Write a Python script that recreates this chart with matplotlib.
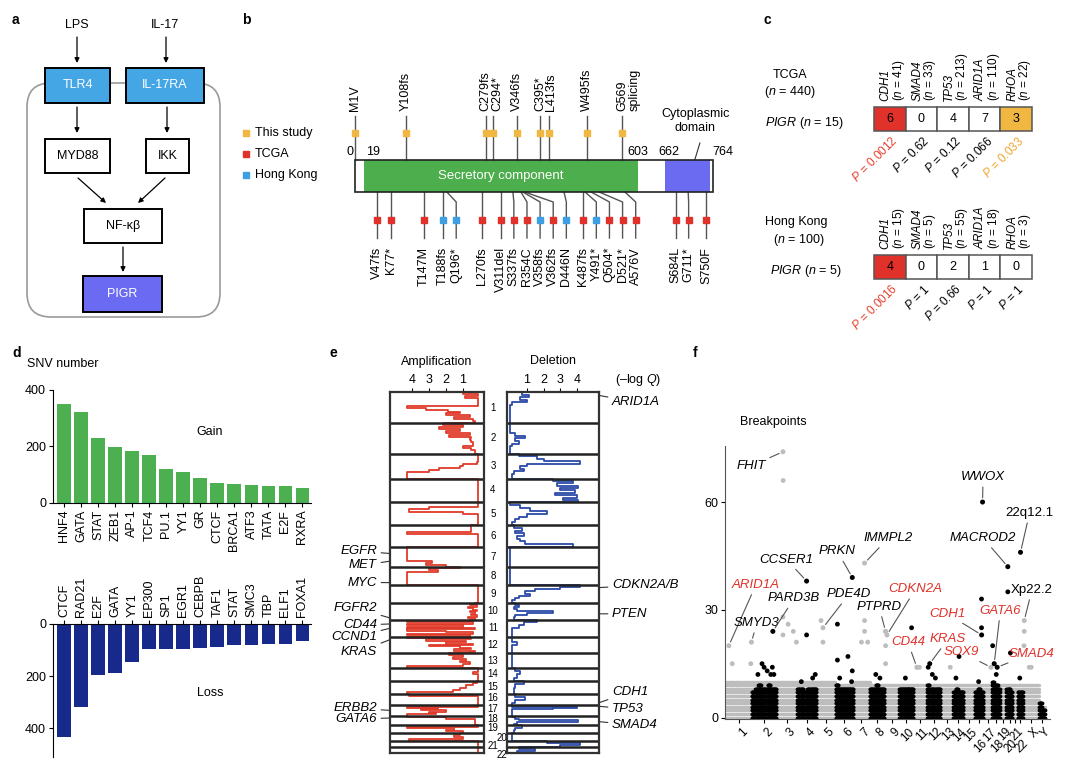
import numpy as np
import matplotlib
matplotlib.use("Agg")
import matplotlib.pyplot as plt
from matplotlib.patches import Rectangle, FancyBboxPatch

plt.rcParams['font.family'] = ['Liberation Sans', 'DejaVu Sans']
plt.rcParams['mathtext.fontset'] = 'custom'
plt.rcParams['mathtext.rm'] = 'Liberation Sans'
plt.rcParams['mathtext.it'] = 'Liberation Sans:italic'
plt.rcParams['font.size'] = 8.5

W, H = 1080, 780

# ---------------- data ----------------
# b: PIGR mutations
study_muts = ['M1V', 'Y108fs', 'C279fs', 'C294*', 'V346fs', 'C395*', 'L413fs', 'W495fs', 'G569\nsplicing']
study_pos = [1, 108, 279, 294, 346, 395, 413, 495, 569]
ext_muts = ['V47fs', 'K77*', 'T147M', 'T188fs', 'Q196*', 'L270fs', 'V311del', 'S337fs', 'R354C', 'V358fs',
            'V362fs', 'D446N', 'K487fs', 'Y491*', 'Q504*', 'D521*', 'A576V', 'S684L', 'G711*', 'S750F']
ext_pos = [47, 77, 147, 188, 196, 270, 311, 337, 354, 358, 362, 446, 487, 491, 504, 521, 576, 684, 711, 750]
ext_src = ['TCGA', 'TCGA', 'TCGA', 'Hong Kong', 'Hong Kong', 'TCGA', 'TCGA', 'TCGA', 'TCGA', 'Hong Kong',
           'TCGA', 'Hong Kong', 'TCGA', 'Hong Kong', 'TCGA', 'TCGA', 'TCGA', 'TCGA', 'TCGA', 'TCGA']
protein_len = 764
secretory = (19, 603)
cytoplasmic = (662, 758)

# c: co-mutation tables
c_genes = ['CDH1', 'SMAD4', 'TP53', 'ARID1A', 'RHOA']
tcga_n = [41, 33, 213, 110, 22]
tcga_counts = [6, 0, 4, 7, 3]
tcga_p = ['0.0012', '0.62', '0.12', '0.066', '0.033']
hk_n = [15, 5, 55, 18, 3]
hk_counts = [4, 0, 2, 1, 0]
hk_p = ['0.0016', '1', '0.66', '1', '1']

# d: SNV numbers per TF motif
gain_tf = ['HNF4', 'GATA', 'STAT', 'ZEB1', 'AP-1', 'TCF4', 'PU.1', 'YY1', 'GR', 'CTCF', 'BRCA1', 'ATF3', 'TATA', 'E2F', 'RXRA']
gain_val = [349, 323, 231, 196, 185, 169, 118, 109, 86, 69, 65, 64, 60, 58, 51]
loss_tf = ['CTCF', 'RAD21', 'E2F', 'GATA', 'YY1', 'EP300', 'SP1', 'EGR1', 'CEBPB', 'TAF1', 'STAT', 'SMC3', 'TBP', 'ELF1', 'FOXA1']
loss_val = [433, 318, 194, 187, 145, 96, 94, 94, 91, 87, 81, 81, 77, 77, 65]

# e: GISTIC -log Q profiles, per chromosome (equal segments along each chromosome)
chrom_len = [249, 243, 198, 191, 181, 171, 159, 146, 141, 136, 135, 134, 115, 107, 103, 90, 81, 78, 59, 63, 48, 51]
amp_profile = [
    [1.0, 0.1, 0.9, 0.1, 0.1, 0.1, 0.1, 4.3, 3.2, 1.9, 1.2, 2.0, 0.6, 1.5, 0.4, 0.3],
    [2.2, 1.0, 2.4, 1.2, 2.0, 0.6, 1.8, 0.5, 0.6, 0.5, 0.4, 0.4, 1.0, 0.5, 0.3, 0.3],
    [0.1, 0.1, 0.1, 0.1, 0.2, 1.0, 1.2, 2.4, 3.0, 4.3, 4.3, 4.3],
    [0.1, 0.1, 0.1, 0.1, 0.1, 0.1, 0.1, 0.1],
    [0.1, 0.1, 3.0, 4.2, 1.0, 0.1, 0.1, 0.1, 0.1, 0.1],
    [0.5, 0.5, 0.5, 4.3, 0.1, 0.1, 0.1, 0.1, 0.1, 0.1],
    [4.3, 4.3, 4.3, 4.3, 4.3, 4.3, 4.3, 2.8, 3.2, 2.0],
    [1.2, 3.0, 2.5, 4.3, 4.3, 4.3, 4.3, 4.3, 4.3, 4.3],
    [0.1, 0.1, 0.1, 0.1, 0.1, 0.1, 0.1, 0.1],
    [0.3, 0.6, 0.2, 0.7, 0.4, 0.2, 0.6, 0.3, 0.5, 0.2, 0.7, 0.3],
    [0.6, 4.3, 0.4, 4.3, 1.0, 4.3, 0.3, 4.3, 2.0, 0.4, 4.3, 0.6],
    [4.3, 0.5, 3.2, 0.8, 2.0, 0.4, 3.0, 1.2, 0.5, 1.5, 0.3, 0.6],
    [1.8, 1.0, 1.6, 0.8, 1.2, 0.6, 1.0, 4.3],
    [0.1, 0.1, 0.4, 0.1, 0.1, 0.1],
    [0.2, 0.4, 0.8, 1.2, 1.6, 4.3],
    [4.2, 0.1, 0.1, 0.1, 0.1],
    [0.1, 4.3, 2.5, 3.5, 2.0, 3.0, 2.6, 4.3],
    [4.3, 2.0, 0.3, 0.3, 0.3, 0.3],
    [0.1, 4.3, 1.5, 2.0, 1.0],
    [1.2, 1.5, 1.0, 4.2],
    [0.1, 0.1, 0.1],
    [0.1, 0.1, 0.1],
]
del_profile = [
    [0.7, 1.1, 0.6, 1.0, 0.1, 0.0, 0.0, 0.0, 0.0, 0.0, 0.0, 0.0],
    [0.0, 0.0, 0.0, 0.0, 0.3, 0.9, 0.3, 0.5, 0.1, 0.0, 0.0, 0.0],
    [0.5, 1.6, 2.0, 4.2, 1.0, 0.6, 0.8, 0.2, 0.1, 0.1],
    [2.6, 3.8, 2.8, 4.1, 3.0, 3.9, 2.7, 4.0, 3.2, 4.1],
    [0.0, 0.6, 1.2, 2.2, 1.0, 0.5, 0.3, 0.1],
    [0.2, 0.7, 0.3, 0.8, 0.4, 0.6, 0.9, 3.8],
    [0.0, 0.0, 0.0, 0.0],
    [0.0, 0.0, 0.0, 0.0],
    [4.2, 3.0, 1.5, 0.9, 1.2, 0.5, 0.3, 0.1],
    [0.3, 0.5, 0.2, 0.4, 2.6, 1.0, 0.3, 0.2],
    [1.6, 0.8, 0.5, 0.1, 0.1, 0.1],
    [0.1, 0.1, 0.4, 0.1, 0.1, 0.1],
    [0.1, 0.1, 0.1, 0.1],
    [0.3, 0.6, 0.4, 0.2],
    [0.8, 0.3, 0.2, 0.2],
    [0.3, 0.9, 0.3, 0.1],
    [0.1, 4.0, 2.6, 0.1, 0.1, 0.1, 0.1, 0.1],
    [0.1, 0.3, 0.5, 4.1, 0.4, 0.2],
    [0.7, 0.3, 0.2],
    [0.1, 0.1, 0.1],
    [2.2, 4.2, 3.0],
    [0.5, 1.5, 0.4],
]
amp_genes = ['EGFR', 'MET', 'MYC', 'FGFR2', 'CD44', 'CCND1', 'KRAS', 'ERBB2', 'GATA6']
amp_gene_chrom = [7, 7, 8, 10, 11, 11, 12, 17, 18]
amp_gene_pos = [55, 116, 128, 123, 35, 69, 25, 40, 20]
del_genes = ['ARID1A', 'CDKN2A/B', 'PTEN', 'CDH1', 'TP53', 'SMAD4']
del_gene_chrom = [1, 9, 10, 16, 17, 18]
del_gene_pos = [27, 22, 90, 69, 7.5, 49]

# f: breakpoints per chromosome
f_names = [str(i) for i in range(1, 23)] + ['X', 'Y']
f_len = chrom_len + [155, 59]
gray_top = [10, 10, 10, 10, 10, 9, 10, 9, 9, 9, 9, 9, 9, 9, 9, 9, 9, 9, 9, 9, 9, 9, 9, 3]
black_top = {
    '2': [7, 8, 9, 8, 8, 9, 8, 8], '4': [8, 8, 7, 8, 8, 8], '6': [9, 8, 8, 8, 8, 8],
    '8': [8, 8, 9, 8, 8], '10': [8, 8, 8, 8, 8], '12': [9, 8, 8, 8, 8], '14': [7, 8, 7, 7],
    '16': [7, 8, 7], '18': [10, 9, 9, 8], '20': [8, 8, 7], '22': [7, 7], 'Y': [4, 2],
}
out_chrom = ['1', '1', '2', '2', '2', '2', '2', '2', '2', '3', '3', '3', '3', '3', '3', '4', '4', '4', '4',
             '5', '5', '6', '6', '6', '6', '6', '6', '7', '7', '7', '7', '8', '8', '9', '9', '9', '10', '10',
             '11', '11', '12', '12', '12', '13', '14', '14', '16', '16', '16', '18', '18', '20', '20', '22',
             'X', 'X', 'X', 'X']
out_pos = [60, 240, 60, 100, 120, 150, 185, 200, 215, 62, 60, 60, 110, 160, 190, 40, 91, 150, 175,
           40, 59, 18, 18, 155, 162, 120, 40, 110, 110, 80, 140, 60, 100, 9, 9, 9, 120, 60,
           40, 60, 10, 50, 80, 90, 60, 30, 68, 68, 40, 5, 40, 15, 40, 20,
           12, 10, 60, 80]
out_count = [15, 15, 12, 15, 14, 13, 12, 14, 12, 66, 28, 23, 26, 24, 21, 10, 23, 11, 12,
             27, 21, 26, 16, 10, 13, 17, 11, 27, 24, 21, 21, 12, 11, 24, 20, 15, 25, 11,
             14, 14, 14, 12, 11, 14, 17, 11, 33, 25, 10, 20, 12, 35, 18, 11,
             24, 20, 14, 14]
hit_gene = ['ARID1A', 'SMYD3', 'PARD3B', 'FHIT', 'CCSER1', 'PDE4D', 'PRKN', 'IMMPL2', 'PTPRD', 'CDKN2A',
            'CD44', 'KRAS', 'CDH1', 'WWOX', 'SOX9', 'GATA6', 'SMAD4', 'MACROD2', '22q12.1', 'Xp22.2']
hit_chrom = ['1', '1', '2', '3', '4', '5', '6', '7', '9', '9', '11', '12', '16', '16', '17', '18', '18', '20', '22', 'X']
hit_pos = [27, 246, 205, 60, 91, 59, 162, 110, 9, 22, 35, 25, 69, 78, 70, 20, 49, 15, 27, 12]
hit_count = [20, 21, 24, 74, 38, 25, 39, 43, 24, 23, 14, 15, 23, 60, 14, 15, 14, 42, 46, 27]
hit_driver = ['ARID1A', 'CDKN2A', 'CD44', 'KRAS', 'CDH1', 'SOX9', 'GATA6', 'SMAD4']

# ---------------- figure ----------------
RED = '#e0312a'
YEL = '#f0b843'
BLU = '#3f9fe3'
fig = plt.figure(figsize=(W / 100, H / 100), dpi=100)


def px_axes(x0, y0, x1, y1):
    return fig.add_axes([x0 / W, 1 - y1 / H, (x1 - x0) / W, (y1 - y0) / H])


ov = fig.add_axes([0, 0, 1, 1], zorder=5)
ov.set_xlim(0, W)
ov.set_ylim(H, 0)
ov.axis('off')
ov.patch.set_alpha(0)

for lab, x, y in [('a', 12, 20), ('b', 242, 20), ('c', 763, 20), ('d', 12, 353), ('e', 330, 353), ('f', 693, 353)]:
    ov.text(x, y, lab, fontsize=10, fontweight='bold', ha='left', va='center')

# ---- a: pathway diagram
ov.add_patch(FancyBboxPatch((27, 83), 193, 234, boxstyle='round,pad=0,rounding_size=24',
                            fc='none', ec='#9a9a9a', lw=1.2))


def box(x0, y0, x1, y1, text, fc='white', tc='black'):
    ov.add_patch(Rectangle((x0, y0), x1 - x0, y1 - y0, fc=fc, ec='black', lw=1.4, zorder=3))
    ov.text((x0 + x1) / 2, (y0 + y1) / 2, text, color=tc, ha='center', va='center', fontsize=9, zorder=4)


def arrow(x0, y0, x1, y1):
    ov.annotate('', xy=(x1, y1), xytext=(x0, y0),
                arrowprops=dict(arrowstyle='-|>', color='black', lw=0.9, shrinkA=0, shrinkB=0, mutation_scale=7))


ov.text(77, 25, 'LPS', ha='center', va='center', fontsize=9)
ov.text(165, 25, 'IL-17', ha='center', va='center', fontsize=9)
arrow(77, 37, 77, 63)
arrow(166, 37, 166, 63)
box(45, 68, 110, 103, 'TLR4', fc='#45a6e6', tc='white')
box(126, 68, 204, 103, 'IL-17RA', fc='#45a6e6', tc='white')
arrow(77, 107, 77, 133)
arrow(167, 107, 167, 133)
box(45, 139, 110, 173, 'MYD88')
box(146, 139, 189, 173, 'IKK')
arrow(78, 178, 106, 203)
arrow(165, 178, 138, 203)
box(84, 209, 162, 243, 'NF-κβ')
arrow(123, 247, 123, 272)
box(83, 276, 162, 312, 'PIGR', fc='#6a6af2', tc='white')

# ---- b: protein lollipop
bx = px_axes(240, 0, 760, 320)
bx.set_xlim((240 - 355) / 0.4686, (760 - 355) / 0.4686)
bx.set_ylim(320, 0)
bx.axis('off')


def spread(vals, gap):
    out = []
    for v in vals:
        out.append(v if not out else max(v, out[-1] + gap))
    return out


bar_top, bar_bot = 160, 192
bx.add_patch(Rectangle((secretory[0], bar_top), secretory[1] - secretory[0], bar_bot - bar_top, fc='#4cae4c', ec='none'))
bx.add_patch(Rectangle((cytoplasmic[0], bar_top), cytoplasmic[1] - cytoplasmic[0], bar_bot - bar_top, fc='#6b6bf2', ec='none'))
bx.add_patch(Rectangle((0, bar_top), protein_len, bar_bot - bar_top, fc='none', ec='#222222', lw=1.2, zorder=3))
bx.text(sum(secretory) / 2, 176, 'Secretory component', color='white', ha='center', va='center', fontsize=9.5)
bx.text(-4, 152, '0', ha='right', va='center', fontsize=9)
bx.text(secretory[0] + 4, 152, str(secretory[0]), ha='left', va='center', fontsize=9)
bx.text(secretory[1], 152, str(secretory[1]), ha='center', va='center', fontsize=9)
bx.text(cytoplasmic[0] + 8, 152, str(cytoplasmic[0]), ha='center', va='center', fontsize=9)
bx.text(protein_len + 21, 152, str(protein_len), ha='center', va='center', fontsize=9)
bx.text(726, 121, 'Cytoplasmic\ndomain', ha='center', va='center', fontsize=9, linespacing=1.15)
bx.plot([725, 736], [160, 143], color='#333333', lw=0.8)

for pos, lab, lx in zip(study_pos, study_muts, spread(study_pos, 24)):
    bx.plot([pos, pos], [bar_top, 116], color='#555555', lw=1, zorder=1)
    bx.plot(pos, 133, 's', color=YEL, ms=5, zorder=2)
    if '\n' in lab:
        lx = lx + 15
    bx.text(lx, 111, lab, rotation=90, ha='center', va='bottom', fontsize=9, multialignment='left', linespacing=1.0)

src_col = {'This study': YEL, 'TCGA': RED, 'Hong Kong': BLU}
for pos, lab, src, d in zip(ext_pos, ext_muts, ext_src, spread(ext_pos, 28)):
    bx.plot([pos, d, d], [bar_bot, 202, 238], color='#555555', lw=1, zorder=1)
    bx.plot(d, 220, 's', color=src_col[src], ms=5, zorder=2)
    bx.text(d, 247, lab, rotation=90, ha='center', va='top', fontsize=9)

for i, (name, col) in enumerate(src_col.items()):
    y = 133 + i * 21
    ov.plot(246, y, 's', color=col, ms=5)
    ov.text(255, y, name, ha='left', va='center', fontsize=9)

# ---- c: co-occurrence tables
cx0, cw, ch = 874, 31.6, 24


def table(y0, counts, ns, ps):
    for i, (g, n, k, p) in enumerate(zip(c_genes, ns, counts, ps)):
        pv = float(p)
        col = RED if pv < 0.01 else (YEL if pv < 0.05 else 'white')
        pcol = '#e5402f' if pv < 0.01 else ('#efa52e' if pv < 0.05 else 'black')
        x = cx0 + i * cw
        ov.add_patch(Rectangle((x, y0), cw, ch, fc=col, ec='#555555', lw=1.1))
        cx = x + cw / 2
        ov.text(cx, y0 + ch / 2, str(k), ha='center', va='center', fontsize=9)
        ov.text(cx - 4, y0 - 6, g, rotation=90, ha='center', va='bottom', fontsize=8.5, style='italic')
        ov.text(cx + 9, y0 - 6, '($n$ = %d)' % n, rotation=90, ha='center', va='bottom', fontsize=8.5)
        ov.text(cx + 6, y0 + ch + 8, '$P$ = ' + p, rotation=45, ha='right', va='center',
                rotation_mode='anchor', fontsize=8.5, color=pcol)


table(107, tcga_counts, tcga_n, tcga_p)
table(255, hk_counts, hk_n, hk_p)
ov.text(790, 75, 'TCGA', ha='center', va='center', fontsize=9)
ov.text(790, 92, '($n$ = 440)', ha='center', va='center', fontsize=9)
ov.text(804, 123, '$PIGR$ ($n$ = 15)', ha='center', va='center', fontsize=9)
ov.text(796, 222, 'Hong Kong', ha='center', va='center', fontsize=9)
ov.text(799, 240, '($n$ = 100)', ha='center', va='center', fontsize=9)
ov.text(806, 271, '$PIGR$ ($n$ = 5)', ha='center', va='center', fontsize=9)

# ---- d: SNV bars
gx = px_axes(53, 390, 311, 502.7)
xg = np.arange(len(gain_tf))
gx.bar(xg, gain_val, width=0.82, color='#4caf50')
gx.set_xlim(-0.67, 14.5)
gx.set_ylim(0, 400)
gx.set_yticks([0, 200, 400])
gx.set_xticks(xg)
gx.set_xticklabels(gain_tf, rotation=90, fontsize=9)
gx.spines[['top', 'right']].set_visible(False)
gx.text(0.608, 0.63, 'Gain', transform=gx.transAxes, ha='center', va='center', fontsize=9)

lx_ = px_axes(53, 624, 311, 757)
lx_.bar(xg, loss_val, width=0.82, color='#17298a')
lx_.set_xlim(-0.67, 14.5)
lx_.set_ylim(510, 0)
lx_.set_yticks([0, 200, 400])
lx_.xaxis.tick_top()
lx_.set_xticks(xg)
lx_.set_xticklabels(loss_tf, rotation=90, fontsize=9)
lx_.spines[['bottom', 'right']].set_visible(False)
lx_.text(0.608, 0.48, 'Loss', transform=lx_.transAxes, ha='center', va='center', fontsize=9)
for a in (gx, lx_):
    a.tick_params(length=3, width=0.8, labelsize=9, pad=2)
    for s in a.spines.values():
        s.set_linewidth(0.8)
ov.text(27, 364, 'SNV number', ha='left', va='center', fontsize=9)

# ---- e: GISTIC profiles
cstart = np.concatenate([[0], np.cumsum(chrom_len)])
genome = cstart[-1]


def profile(vals_list):
    xs, ys = [], []
    for c, vals in enumerate(vals_list):
        n = len(vals)
        for k, v in enumerate(vals):
            ys += [cstart[c] + chrom_len[c] * k / n, cstart[c] + chrom_len[c] * (k + 1) / n]
            xs += [v, v]
    return xs, ys


ax_amp = px_axes(390, 392, 484, 753)
ax_del = px_axes(507, 392, 599, 753)
xa, ya = profile(amp_profile)
ax_amp.plot(xa, ya, color='#e03a2a', lw=1.3)
xd, yd = profile(del_profile)
ax_del.plot(xd, yd, color='#2a4aa8', lw=1.3)
ax_amp.set_xlim(5.3, -0.24)
ax_del.set_xlim(-0.2, 5.34)
ax_amp.set_xticks([4, 3, 2, 1])
ax_del.set_xticks([1, 2, 3, 4])
for a in (ax_amp, ax_del):
    a.set_ylim(genome, 0)
    a.set_yticks([])
    a.xaxis.tick_top()
    a.tick_params(axis='x', length=3, labelsize=9, pad=1)
    for s in a.spines.values():
        s.set_linewidth(1.6)
        s.set_color('#333333')
    for b in cstart[1:-1]:
        a.axhline(b, color='#222222', lw=1.8)

# small label nudges (pixels, downward positive) so the short chromosomes stay legible
name_dx = {'20': 9, '22': 9}
name_dy = {'15': -0.5, '16': -1.5, '17': -1.5, '18': -1.4, '19': -0.5, '20': 1, '21': 2.4, '22': 5.2}
for c in range(len(chrom_len)):
    name = str(c + 1)
    yc = cstart[c] + chrom_len[c] / 2
    ax_amp.annotate(name, xy=(1, yc), xycoords=('axes fraction', 'data'),
                    xytext=(9 + name_dx.get(name, 0), -name_dy.get(name, 0)), textcoords='offset pixels',
                    ha='center', va='center', fontsize=7)

amp_dy = {'EGFR': 2.5, 'MET': -4, 'MYC': 0, 'FGFR2': 10, 'CD44': -1, 'CCND1': -9, 'KRAS': -12, 'ERBB2': 2, 'GATA6': -1}
del_dy = {'ARID1A': -7, 'CDKN2A/B': 2.6, 'PTEN': 0, 'CDH1': 10.7, 'TP53': -2.6, 'SMAD4': -3.3}
for g, c, p in zip(amp_genes, amp_gene_chrom, amp_gene_pos):
    ax_amp.annotate(g, xy=(0, cstart[c - 1] + p), xycoords=('axes fraction', 'data'),
                    xytext=(-13, amp_dy[g]), textcoords='offset pixels', ha='right', va='center',
                    fontsize=9.5, style='italic',
                    arrowprops=dict(arrowstyle='-', color='#333333', lw=0.8, shrinkA=1, shrinkB=0))
for g, c, p in zip(del_genes, del_gene_chrom, del_gene_pos):
    ax_del.annotate(g, xy=(1, cstart[c - 1] + p), xycoords=('axes fraction', 'data'),
                    xytext=(13, del_dy[g]), textcoords='offset pixels', ha='left', va='center',
                    fontsize=9.5, style='italic',
                    arrowprops=dict(arrowstyle='-', color='#333333', lw=0.8, shrinkA=1, shrinkB=0))
ov.text(437, 362, 'Amplification', ha='center', va='center', fontsize=9)
ov.text(553, 361, 'Deletion', ha='center', va='center', fontsize=9)
ov.text(638, 380, '(–log $Q$)', ha='center', va='center', fontsize=9)

# ---- f: breakpoint Manhattan
fx = px_axes(725, 446, 1050, 719)
fstart = np.concatenate([[0], np.cumsum(f_len)])
fidx = {n: i for i, n in enumerate(f_names)}
GRAY, BLACK = '#bdbdbd', '#000000'


def gpos(ch, p):
    return fstart[fidx[ch]] + p


gx_pts, gy_pts = [], []
for i, n in enumerate(f_names):
    cols = np.arange(fstart[i] + 2, fstart[i + 1], 6.0)
    for lvl in range(gray_top[i] + 1):
        gx_pts += list(cols)
        gy_pts += [lvl] * len(cols)
fx.scatter(gx_pts, gy_pts, s=5.5, color=GRAY, linewidths=0, zorder=1)

bx_pts, by_pts = [], []
for n, segs in black_top.items():
    i = fidx[n]
    L = f_len[i]
    for k, h in enumerate(segs):
        a0 = fstart[i] + L * k / len(segs)
        cols = np.arange(a0 + 2, a0 + L / len(segs), 5.0)
        for lvl in range(h + 1):
            bx_pts += list(cols)
            by_pts += [lvl] * len(cols)
fx.scatter(bx_pts, by_pts, s=7.5, color=BLACK, linewidths=0, zorder=2)


def pcol(ch):
    return GRAY if fidx[ch] % 2 == 0 else BLACK


fx.scatter([gpos(c, p) for c, p in zip(out_chrom, out_pos)], out_count,
           s=12, c=[pcol(c) for c in out_chrom], linewidths=0, zorder=3)
fx.scatter([gpos(c, p) for c, p in zip(hit_chrom, hit_pos)], hit_count,
           s=13, c=[pcol(c) for c in hit_chrom], linewidths=0, zorder=3)

hit_text = {'FHIT': (242, 70), 'WWOX': (2492, 67), '22q12.1': (2943, 57), 'MACROD2': (2492, 50),
            'Xp22.2': (2966, 35.6), 'IMMPL2': (1574, 50), 'PRKN': (1080, 46.3), 'CCSER1': (587, 44),
            'ARID1A': (290, 37), 'PDE4D': (1193, 34.4), 'PARD3B': (661, 33.2), 'CDKN2A': (1838, 35.8),
            'PTPRD': (1483, 30.9), 'CDH1': (2144, 28.9), 'GATA6': (2660, 29.8), 'SMYD3': (300, 26.4),
            'CD44': (1763, 21), 'KRAS': (2154, 21.9), 'SOX9': (2280, 18.2), 'SMAD4': (2957, 17.8)}
for g, c, p, k in zip(hit_gene, hit_chrom, hit_pos, hit_count):
    col = RED if g in hit_driver else 'black'
    sty = 'normal' if g in ('22q12.1', 'Xp22.2') else 'italic'
    fx.annotate(g, xy=(gpos(c, p), k), xytext=hit_text[g], ha='center', va='center', fontsize=9.5,
                color=col, style=sty, zorder=4,
                arrowprops=dict(arrowstyle='-', color='#555555', lw=0.8, shrinkA=1, shrinkB=3))

fx.set_xlim(-10, fstart[-1] + 48)
fx.set_ylim(-0.4, 75.6)
fx.set_yticks([0, 30, 60])
centers = (fstart[:-1] + fstart[1:]) / 2
fx.set_xticks(centers)
fx.set_xticklabels([])
low = {'16', '18', '20', '22'}
for n, xc in zip(f_names, centers):
    fx.text(xc + 20, -0.025 if n not in low else -0.068, n, transform=fx.get_xaxis_transform(),
            rotation=45, ha='right', va='top', rotation_mode='anchor', fontsize=8.5)
fx.spines[['top', 'right']].set_visible(False)
for s in fx.spines.values():
    s.set_linewidth(0.8)
    s.set_color('#555555')
fx.tick_params(length=3, width=0.8, labelsize=9, pad=2)
ov.text(740, 422, 'Breakpoints', ha='left', va='center', fontsize=9)

fig.savefig('out.png', dpi=100)
